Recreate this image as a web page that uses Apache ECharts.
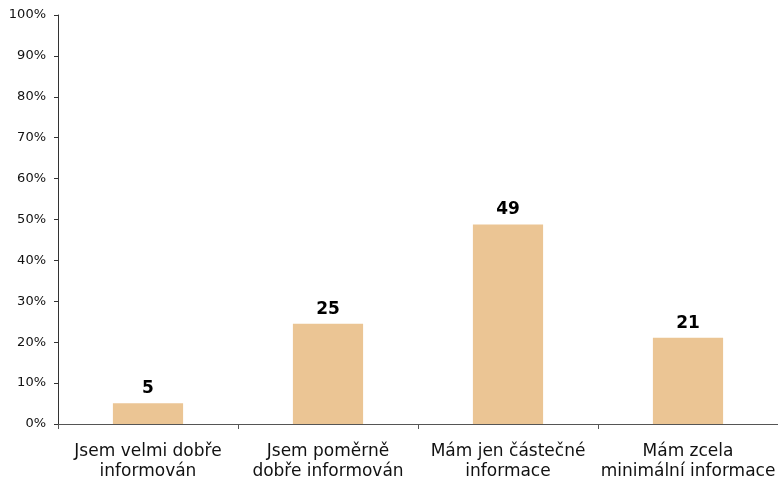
<!DOCTYPE html>
<html>
<head>
<meta charset="utf-8">
<script src="https://cdn.jsdelivr.net/npm/echarts@6/dist/echarts.min.js"></script>
<style>
  html, body { margin: 0; padding: 0; background: #fff; }
  #chart-container { width: 778px; height: 482px; }
</style>
</head>
<body>
<div id="chart-container"></div>
<script>
var categories = [
  "Jsem velmi dobře\ninformován",
  "Jsem poměrně\ndobře informován",
  "Mám jen částečné\ninformace",
  "Mám zcela\nminimální informace"
];
var values = [5.1, 24.5, 48.8, 21.1];
var yTicks = [0, 10, 20, 30, 40, 50, 60, 70, 80, 90, 100];

var dom = document.getElementById("chart-container");
var myChart = echarts.init(dom, null, { renderer: "canvas" });

var option = {
  animation: false,
  textStyle: { fontFamily: "DejaVu Sans" },
  grid: { left: 58, right: -3, top: 15, bottom: 57, containLabel: false },
  xAxis: {
    type: "category",
    data: categories,
    axisLine: { lineStyle: { color: "#555", width: 1 } },
    axisTick: { show: true, alignWithLabel: false, length: 5, lineStyle: { color: "#555" } },
    axisLabel: { color: "#111", fontSize: 17, lineHeight: 20, margin: 18, interval: 0 }
  },
  yAxis: {
    type: "value",
    min: yTicks[0],
    max: yTicks[yTicks.length - 1],
    interval: 10,
    axisLine: { show: true, lineStyle: { color: "#333", width: 1 } },
    axisTick: { show: true, length: 4, lineStyle: { color: "#333" } },
    splitLine: { show: false },
    axisLabel: { color: "#111", fontSize: 13, margin: 12, formatter: "{value}%" }
  },
  series: [{
    type: "bar",
    data: values,
    barWidth: "39%",
    itemStyle: { color: "#EBC594" },
    label: {
      show: true,
      position: "top",
      distance: 6,
      color: "#000",
      fontWeight: "bold",
      fontSize: 17,
      formatter: function (p) { return Math.round(p.value); }
    }
  }]
};

myChart.setOption(option);
window.addEventListener("resize", myChart.resize);
</script>
</body>
</html>
